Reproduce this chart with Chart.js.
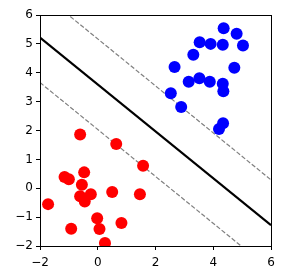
<!DOCTYPE html>
<html><head><meta charset="utf-8">
<script src="https://cdn.jsdelivr.net/npm/chart.js@4.4.1/dist/chart.umd.min.js"></script>
<style>html,body{margin:0;padding:0;background:#fff}#wrap{width:285px;height:280px}</style>
</head><body><div id="wrap"><canvas id="c" width="285" height="280"></canvas></div>
<script>
const blueX = [4.36,4.81,5.03,3.53,3.91,4.33,3.31,2.66,4.73,3.15,3.52,3.88,4.33,4.35,2.53,2.89,4.34,4.20];
const blueY = [5.54,5.35,4.94,5.06,5.00,4.97,4.62,4.20,4.17,3.69,3.81,3.69,3.62,3.36,3.29,2.81,2.25,2.05];
const redX = [-0.61,0.64,1.57,-1.15,-1.00,-0.47,-0.55,0.50,1.46,-0.24,-0.61,-0.45,-1.72,-0.02,0.82,0.06,-0.92,0.25];
const redY = [1.86,1.53,0.78,0.39,0.31,0.55,0.12,-0.13,-0.21,-0.21,-0.28,-0.46,-0.55,-1.04,-1.20,-1.41,-1.40,-1.90];
const lineX = [-2, 6];
const solidY = [5.22, -1.28];
const upperY = [6.80, 0.29];
const lowerY = [3.66, -2.84];
const xTicks = [-2, 0, 2, 4, 6];
const yTicks = [-2, -1, 0, 1, 2, 3, 4, 5, 6];

const pts = (xs, ys) => xs.map((x, i) => ({x, y: ys[i]}));
const fmt = v => String(v).replace('-', '\u2212');

const frame = {
  id: 'frame',
  afterDatasetsDraw(chart) {
    const a = chart.chartArea, ctx = chart.ctx;
    ctx.save();
    ctx.strokeStyle = '#000'; ctx.lineWidth = 1;
    ctx.strokeRect(Math.round(a.left) + 0.5, Math.round(a.top) + 0.5, Math.round(a.right - a.left), Math.round(a.bottom - a.top));
    ctx.restore();
  }
};

new Chart(document.getElementById('c'), {
  type: 'scatter',
  data: {
    datasets: [
      {data: pts(blueX, blueY), backgroundColor: '#0000ff', borderWidth: 0, pointRadius: 6, clip: 0},
      {data: pts(redX, redY), backgroundColor: '#ff0000', borderWidth: 0, pointRadius: 6, clip: 0},
      {data: pts(lineX, solidY), showLine: true, borderColor: '#000', borderWidth: 2.2, pointRadius: 0, clip: 0},
      {data: pts(lineX, upperY), showLine: true, borderColor: '#808080', borderWidth: 1.2, borderDash: [4.5, 2], pointRadius: 0, clip: 0},
      {data: pts(lineX, lowerY), showLine: true, borderColor: '#808080', borderWidth: 1.2, borderDash: [4.5, 2], pointRadius: 0, clip: 0}
    ]
  },
  options: {
    responsive: false,
    animation: false,
    events: [],
    layout: {padding: {top: 15, right: 14, left: 0, bottom: 0}},
    plugins: {legend: {display: false}, tooltip: {enabled: false}},
    scales: {
      x: {
        type: 'linear', min: -2, max: 6,
        afterBuildTicks: s => { s.ticks = xTicks.map(v => ({value: v})); },
        afterFit: s => { s.height = 34; },
        grid: {drawOnChartArea: false, drawTicks: true, tickLength: 4, color: '#000', tickColor: '#000'},
        border: {display: true, color: '#000'},
        ticks: {color: '#000', font: {family: 'DejaVu Sans', size: 12}, padding: 6, maxRotation: 0, callback: v => fmt(v)}
      },
      y: {
        type: 'linear', min: -2, max: 6,
        afterBuildTicks: s => { s.ticks = yTicks.map(v => ({value: v})); },
        afterFit: s => { s.width = 40; },
        grid: {drawOnChartArea: false, drawTicks: true, tickLength: 4, color: '#000', tickColor: '#000'},
        border: {display: true, color: '#000'},
        ticks: {color: '#000', font: {family: 'DejaVu Sans', size: 12}, padding: 3, callback: v => fmt(v)}
      }
    }
  },
  plugins: [frame]
});
</script>
</body></html>
